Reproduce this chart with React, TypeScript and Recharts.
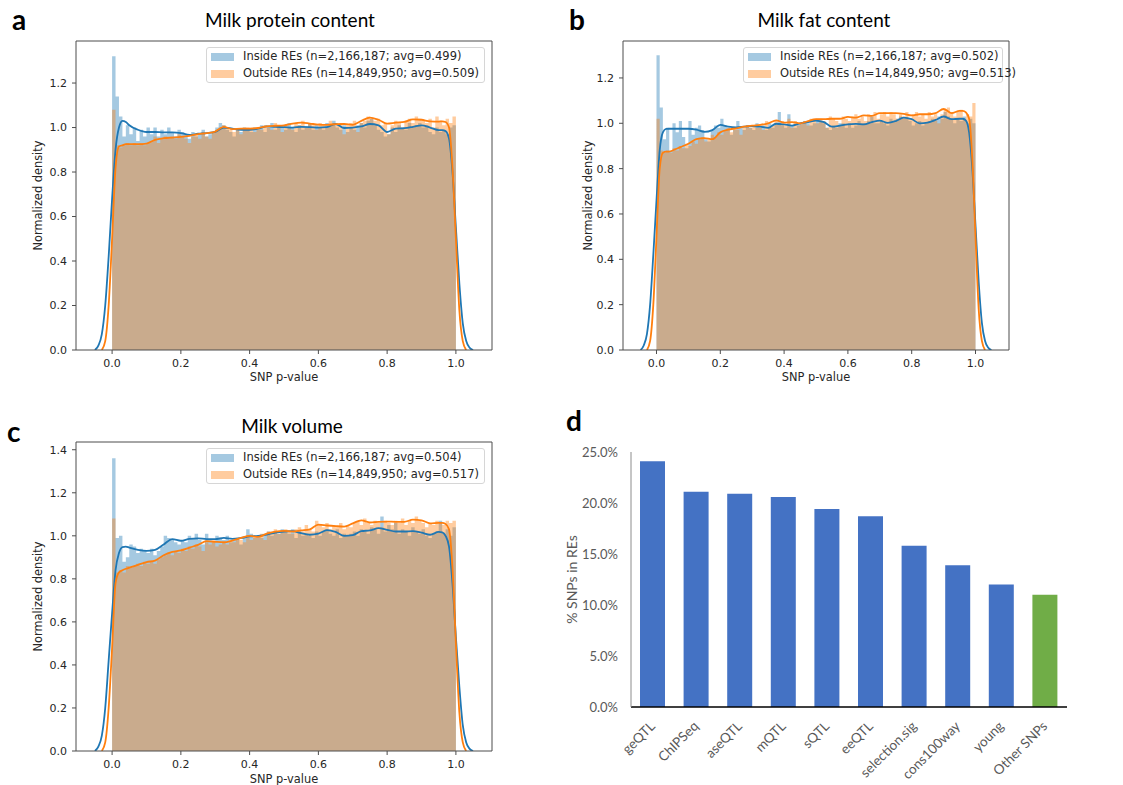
import React from 'react';
import { ComposedChart, Area, Line, XAxis, YAxis, BarChart, Bar, Cell, Label, ReferenceLine } from 'recharts';

const BLUE = '#1f77b4';
const ORANGE = '#ff7f0e';
const MPL_FONT = '"DejaVu Sans", sans-serif';
const XL_FONT = 'Lato, sans-serif';

// p-value histograms (100 bins over [0, 1]), normalized density
const PROTEIN_IN = [
  1.32, 1.14, 1.05, 0.96, 1.01, 0.97, 1.0, 0.94, 0.99, 0.96,
  1.0, 0.97, 1.0, 0.96, 0.99, 0.97, 1.0, 0.98, 0.96, 0.99,
  0.98, 0.97, 0.95, 0.98, 0.96, 0.97, 0.99, 0.96, 0.97, 0.98,
  1.0, 1.02, 1.01, 0.99, 0.98, 0.96, 0.99, 0.98, 1.0, 0.99,
  0.98, 1.0, 0.99, 1.01, 0.98, 1.0, 1.02, 0.99, 1.01, 1.0,
  0.99, 1.02, 1.0, 0.98, 1.01, 0.99, 1.0, 1.02, 0.99, 1.01,
  1.0, 0.99, 1.02, 1.01, 1.03, 1.0, 0.99, 1.01, 0.98, 1.0,
  0.99, 1.01, 1.02, 1.0, 1.03, 1.04, 1.01, 0.99, 0.98, 0.96,
  0.97, 1.0, 0.98, 1.01, 1.0, 0.99, 1.02, 1.0, 1.01, 1.02,
  1.0, 1.01, 0.98, 0.97, 1.0, 0.98, 0.99, 0.97, 1.0, 1.01,
];
const PROTEIN_OUT = [
  1.08, 0.92, 0.91, 0.92, 0.93, 0.92, 0.93, 0.92, 0.93, 0.92,
  0.93, 0.94, 0.96, 0.93, 0.95, 0.96, 0.95, 0.96, 0.95, 0.97,
  0.96, 0.95, 0.93, 0.96, 0.97, 0.95, 0.98, 0.96, 0.95, 0.98,
  0.99, 1.0, 1.01, 1.0, 0.99, 0.98, 0.99, 0.97, 1.0, 1.0,
  0.99, 0.98, 1.0, 0.99, 1.01, 1.0, 0.99, 1.02, 1.01, 0.98,
  1.01, 1.0, 0.99, 1.02, 1.01, 1.03, 1.0, 1.02, 1.01, 0.99,
  1.02, 1.01, 1.0, 1.03, 1.02, 1.01, 1.02, 0.97, 1.01, 1.02,
  1.03, 0.98, 1.02, 1.03, 1.05, 1.04, 1.03, 1.04, 1.01, 1.02,
  0.97, 1.01, 1.03, 1.02, 1.0, 1.03, 1.04, 1.02, 1.05, 1.04,
  1.03, 1.02, 1.04, 1.0, 1.05, 1.03, 1.01, 1.04, 1.02, 1.05,
];
const FAT_IN = [
  1.3, 1.07, 0.93, 0.98, 0.88, 1.0, 0.96, 1.01, 0.94, 0.89,
  1.01, 0.95, 0.98, 0.99, 0.97, 0.93, 0.92, 0.97, 0.99, 0.98,
  1.02, 0.99, 0.98, 0.95, 0.97, 1.01, 0.98, 0.97, 0.99, 0.98,
  0.97, 1.0, 0.98, 0.99, 0.97, 1.0, 0.98, 1.0, 1.05, 0.99,
  0.98, 1.04, 0.99, 0.98, 1.0, 1.0, 1.01, 1.0, 0.99, 1.0,
  1.02, 1.01, 1.0, 0.98, 0.97, 0.99, 0.98, 1.0, 1.0, 0.98,
  1.0, 0.98, 0.99, 1.01, 1.0, 1.0, 1.01, 1.03, 1.0, 1.0,
  1.01, 1.0, 0.99, 1.02, 1.01, 1.02, 1.03, 1.02, 1.02, 1.01,
  0.99, 1.0, 1.01, 0.99, 1.0, 1.01, 1.02, 1.01, 1.03, 1.02,
  1.05, 1.03, 1.02, 1.0, 1.02, 1.01, 1.03, 1.0, 1.02, 1.0,
];
const FAT_OUT = [
  1.02, 0.88, 0.87, 0.88, 0.87, 0.89, 0.88, 0.9, 0.89, 0.91,
  0.9, 0.92, 0.91, 0.93, 0.94, 0.92, 0.93, 0.95, 0.94, 0.96,
  0.95, 0.97, 0.98, 0.96, 0.98, 0.97, 0.95, 0.98, 0.99, 0.98,
  0.99, 0.98, 0.99, 0.97, 1.01, 0.98, 0.99, 1.01, 1.0, 1.01,
  0.99, 1.02, 0.98, 1.01, 0.99, 1.0, 1.01, 0.99, 1.02, 1.01,
  1.0, 1.02, 1.01, 0.98, 1.03, 1.02, 1.01, 0.99, 1.03, 1.02,
  1.01, 1.03, 1.04, 1.02, 1.03, 1.01, 1.04, 1.03, 1.05, 1.02,
  1.04, 1.05, 1.03, 1.05, 1.04, 1.02, 1.04, 1.03, 1.05, 1.02,
  1.04, 1.05, 1.03, 1.04, 1.02, 1.05, 1.03, 1.04, 1.0, 1.04,
  1.06, 1.07, 1.05, 1.03, 1.05, 1.06, 1.02, 1.04, 1.03, 1.09,
];
const VOLUME_IN = [
  1.36, 0.99, 1.0, 0.88, 0.9, 0.96, 0.95, 0.92, 0.94, 0.93,
  0.92, 0.94, 0.91, 0.93, 0.95, 1.0, 0.99, 0.98, 0.97, 0.96,
  0.98, 0.97, 1.0, 0.99, 1.01, 0.98, 0.96, 1.01, 0.98, 0.97,
  1.0, 0.99, 0.98, 1.0, 0.97, 0.98, 0.99, 0.96, 0.99, 1.03,
  1.01, 0.99, 1.0, 0.99, 1.01, 1.02, 1.0, 1.02, 1.01, 1.03,
  1.02, 1.01, 1.03, 0.99, 1.02, 1.0, 1.01, 1.0, 0.99, 1.02,
  1.0, 1.02, 1.03, 1.01, 1.0, 1.03, 0.99, 1.01, 1.0, 1.01,
  1.02, 1.0, 1.03, 1.02, 1.01, 1.04, 1.03, 1.01, 1.09, 1.02,
  1.05, 1.03, 1.06, 1.01, 1.03, 1.02, 1.0, 1.04, 1.02, 1.01,
  1.03, 1.0, 0.99, 1.01, 1.02, 1.07, 1.01, 1.03, 1.0, 1.04,
];
const VOLUME_OUT = [
  1.08, 0.83, 0.84, 0.83, 0.86, 0.85, 0.86, 0.87, 0.86, 0.88,
  0.87, 0.88, 0.87, 0.89, 0.9, 0.91, 0.92, 0.91, 0.93, 0.92,
  0.94, 0.93, 0.95, 0.94, 0.96, 0.95, 0.93, 0.97, 0.96, 0.98,
  0.95, 0.96, 0.97, 0.96, 0.98, 0.97, 0.99, 0.98, 0.97, 1.0,
  0.98, 1.0, 0.99, 1.01, 0.98, 1.02, 1.01, 1.03, 1.01, 1.02,
  1.03, 1.02, 1.01, 1.03, 1.04, 1.02, 1.05, 1.03, 1.02, 1.07,
  1.05, 1.04, 1.06, 1.03, 1.05, 1.04, 1.06, 1.03, 1.05, 1.04,
  1.06, 1.07, 1.05, 1.08, 1.06, 1.05, 1.07, 1.06, 1.04, 1.07,
  1.06, 1.05, 1.07, 1.06, 1.08, 1.05, 1.07, 1.06, 1.09, 1.07,
  1.06, 1.04, 1.06, 1.05, 1.07, 1.06, 1.05, 1.07, 1.06, 1.07,
];

// KDE curves sampled on a shared p-value grid (null = outside the curve's support)
const KDE_X = [
  -0.06, -0.05, -0.04, -0.03, -0.02, -0.01, 0, 0.01, 0.02, 0.03, 0.04, 0.05,
  0.075, 0.1, 0.125, 0.15, 0.175, 0.2, 0.225, 0.25, 0.275, 0.3, 0.325, 0.35,
  0.375, 0.4, 0.425, 0.45, 0.475, 0.5, 0.525, 0.55, 0.575, 0.6, 0.625, 0.65,
  0.675, 0.7, 0.725, 0.75, 0.775, 0.8, 0.825, 0.85, 0.875, 0.9, 0.925, 0.95,
  0.96, 0.97, 0.98, 0.99, 1.0, 1.01, 1.02, 1.03, 1.04, 1.05, 1.06,
];
const PROTEIN_IN_KDE = [
  null, 0, 0.02, 0.07, 0.2, 0.42, 0.68, 0.9, 1.0, 1.03, 1.025, 1.01,
  0.99, 0.98, 0.98, 0.978, 0.978, 0.975, 0.967, 0.972, 0.975, 0.98, 1.0, 0.995,
  0.99, 0.99, 0.995, 1.005, 1.003, 1.002, 1.0, 1.003, 1.002, 1.0, 1.002, 1.016,
  0.998, 1.0, 1.005, 1.016, 1.01, 0.98, 0.995, 0.997, 1.003, 1.01, 1.0, 0.988,
  0.988, 0.984, 0.95, 0.8, 0.55, 0.3, 0.12, 0.04, 0.01, 0, null,
];
const PROTEIN_OUT_KDE = [
  null, null, null, 0, 0.04, 0.2, 0.5, 0.82, 0.915, 0.92, 0.925, 0.925,
  0.925, 0.928, 0.945, 0.952, 0.955, 0.958, 0.963, 0.97, 0.975, 0.982, 1.003, 0.993,
  0.995, 0.995, 0.998, 1.005, 1.008, 1.01, 1.018, 1.022, 1.018, 1.013, 1.012, 1.015,
  1.016, 1.012, 1.03, 1.045, 1.035, 1.018, 1.022, 1.025, 1.037, 1.035, 1.028, 1.027,
  1.028, 1.025, 1.0, 0.82, 0.5, 0.18, 0.04, 0, null, null, null,
];
const FAT_IN_KDE = [
  null, 0, 0.02, 0.07, 0.2, 0.42, 0.66, 0.88, 0.96, 0.975, 0.976, 0.976,
  0.976, 0.976, 0.972, 0.962, 0.97, 0.993, 0.985, 0.982, 0.985, 0.988, 0.985, 0.98,
  0.998, 0.995, 0.99, 1.0, 1.005, 1.012, 1.005, 0.985, 0.99, 0.995, 0.997, 0.995,
  1.005, 1.012, 1.002, 1.01, 1.025, 1.018, 1.0, 1.003, 1.015, 1.03, 1.018, 1.02,
  1.02, 1.012, 0.96, 0.8, 0.55, 0.3, 0.12, 0.04, 0.01, 0, null,
];
const FAT_OUT_KDE = [
  null, null, null, 0, 0.04, 0.2, 0.5, 0.8, 0.87, 0.875, 0.875, 0.88,
  0.895, 0.91, 0.93, 0.935, 0.93, 0.96, 0.972, 0.978, 0.985, 0.99, 0.993, 1.0,
  1.013, 1.003, 1.005, 1.0, 1.01, 1.018, 1.018, 1.02, 1.02, 1.028, 1.025, 1.035,
  1.033, 1.045, 1.045, 1.045, 1.042, 1.035, 1.04, 1.04, 1.045, 1.063, 1.045, 1.055,
  1.055, 1.048, 1.02, 0.84, 0.5, 0.18, 0.04, 0, null, null, null,
];
const VOLUME_IN_KDE = [
  null, 0, 0.02, 0.07, 0.2, 0.42, 0.64, 0.84, 0.92, 0.948, 0.95, 0.945,
  0.935, 0.93, 0.935, 0.96, 0.985, 0.977, 0.986, 0.988, 0.985, 0.985, 0.99, 0.986,
  0.99, 0.997, 1.0, 1.006, 1.015, 1.02, 1.022, 1.012, 1.005, 1.01, 1.026, 1.018,
  1.0, 1.003, 1.022, 1.025, 1.036, 1.028, 1.02, 1.02, 1.022, 1.015, 1.005, 1.018,
  1.016, 1.0, 0.95, 0.78, 0.53, 0.3, 0.12, 0.04, 0.01, 0, null,
];
const VOLUME_OUT_KDE = [
  null, null, null, 0, 0.04, 0.2, 0.48, 0.78, 0.83, 0.84, 0.847, 0.852,
  0.865, 0.878, 0.885, 0.91, 0.925, 0.932, 0.945, 0.958, 0.975, 0.972, 0.97, 0.978,
  0.99, 1.0, 0.995, 1.01, 1.02, 1.023, 1.02, 1.025, 1.03, 1.052, 1.048, 1.045,
  1.043, 1.058, 1.072, 1.062, 1.065, 1.066, 1.065, 1.065, 1.075, 1.072, 1.058, 1.06,
  1.06, 1.055, 1.03, 0.85, 0.5, 0.18, 0.04, 0, null, null, null,
];

const P_TICKS = [0, 0.2, 0.4, 0.6, 0.8, 1.0];
const DENSITY_TICKS_12 = [0, 0.2, 0.4, 0.6, 0.8, 1.0, 1.2];
const DENSITY_TICKS_14 = [0, 0.2, 0.4, 0.6, 0.8, 1.0, 1.2, 1.4];

// panel d
const RE_CATEGORIES = ['geQTL', 'ChIPSeq', 'aseQTL', 'mQTL', 'sQTL', 'eeQTL', 'selection.sig', 'cons100way', 'young', 'Other SNPs'];
const RE_PERCENT = [0.241, 0.211, 0.209, 0.206, 0.194, 0.187, 0.158, 0.139, 0.12, 0.11];
const PCT_TICKS = [0, 0.05, 0.1, 0.15, 0.2, 0.25];

const X_MIN = -0.105;
const X_MAX = 1.105;

const toSteps = (bins: number[]) => [
  ...bins.map((v, i) => ({ x: i / bins.length, y: v })),
  { x: 1, y: bins[bins.length - 1] },
];
const toCurve = (ys: (number | null)[]) => KDE_X.map((x, i) => ({ x, y: ys[i] }));

const tickStyle = { fill: '#262626', fontSize: 11, fontFamily: MPL_FONT };
const labelStyle = { fill: '#262626', fontSize: 11.4, fontFamily: MPL_FONT };
const FRAME = '#4d4d4d';

const HistLegend = ({ left, top, width, labels }: any) => (
  <div
    style={{
      position: 'absolute', left, top, width, height: 36, boxSizing: 'border-box',
      border: '1px solid #d6d6d6', borderRadius: 3, background: 'rgba(255,255,255,0.8)',
      fontFamily: MPL_FONT, fontSize: 11.5, color: '#262626', lineHeight: 1,
    }}
  >
    {labels.map((t: string, i: number) => (
      <React.Fragment key={t}>
        <div style={{ position: 'absolute', left: 4, top: 5 + i * 17, width: 23, height: 8, background: i === 0 ? 'rgba(31,119,180,0.4)' : 'rgba(255,127,14,0.4)' }} />
        <div style={{ position: 'absolute', left: 36, top: 3 + i * 17, whiteSpace: 'nowrap' }}>{t}</div>
      </React.Fragment>
    ))}
  </div>
);

const HistPanel = ({ left, top, width, height, plot, xAxisH, yMax, yTicks, yLabelOffset, xLabelOffset, inside, outside, insideKde, outsideKde }: any) => (
  <div style={{ position: 'absolute', left, top }}>
    <ComposedChart
      width={width}
      height={height}
      margin={{ top: plot.top, right: width - plot.right, bottom: height - plot.bottom - xAxisH, left: plot.left - 40 }}
    >
      <XAxis type="number" dataKey="x" domain={[X_MIN, X_MAX]} ticks={P_TICKS} allowDataOverflow
        height={xAxisH} stroke={FRAME} tickSize={4} tickMargin={5} tick={tickStyle} tickFormatter={(v: number) => v.toFixed(1)}>
        <Label value="SNP p-value" position="insideBottom" offset={xLabelOffset} style={labelStyle} />
      </XAxis>
      <YAxis type="number" domain={[0, yMax]} ticks={yTicks} allowDataOverflow width={40}
        stroke={FRAME} tickSize={4} tickMargin={5} tick={tickStyle} tickFormatter={(v: number) => v.toFixed(1)}>
        <Label value="Normalized density" angle={-90} position="insideLeft" offset={yLabelOffset}
          style={{ ...labelStyle, textAnchor: 'middle' }} />
      </YAxis>
      <Area data={toSteps(inside)} dataKey="y" type="stepAfter" fill={BLUE} fillOpacity={0.4} stroke="none" isAnimationActive={false} activeDot={false} />
      <Area data={toSteps(outside)} dataKey="y" type="stepAfter" fill={ORANGE} fillOpacity={0.4} stroke="none" isAnimationActive={false} activeDot={false} />
      <Line data={toCurve(insideKde)} dataKey="y" type="monotone" stroke={BLUE} strokeWidth={1.8} dot={false} activeDot={false} isAnimationActive={false} />
      <Line data={toCurve(outsideKde)} dataKey="y" type="monotone" stroke={ORANGE} strokeWidth={1.8} dot={false} activeDot={false} isAnimationActive={false} />
      {/* top and right spines */}
      <ReferenceLine y={yMax} stroke={FRAME} ifOverflow="visible" />
      <ReferenceLine x={X_MAX} stroke={FRAME} ifOverflow="visible" />
    </ComposedChart>
  </div>
);

const SlantTick = ({ x, y, payload }: any) => (
  <text x={x + 3} y={y + 20} transform={`rotate(-45, ${x + 3}, ${y + 20})`} textAnchor="end" fontSize={13.5} fill="#595959" fontFamily={XL_FONT}>
    {payload.value}
  </text>
);

const Title = ({ cx, top, children }: any) => (
  <div style={{ position: 'absolute', left: cx, top, transform: 'translateX(-50%)', whiteSpace: 'nowrap', fontFamily: XL_FONT, fontSize: 19, lineHeight: 1, color: '#000' }}>
    {children}
  </div>
);
const Letter = ({ left, top, children }: any) => (
  <div style={{ position: 'absolute', left, top, fontFamily: XL_FONT, fontWeight: 700, fontSize: 28, lineHeight: 1, color: '#000' }}>
    {children}
  </div>
);

export default function App() {
  const reData = RE_CATEGORIES.map((name, i) => ({ name, value: RE_PERCENT[i] }));
  return (
    <div style={{ position: 'absolute', left: 0, top: 0, width: 1123, height: 785, background: '#fff', overflow: 'hidden' }}>
      <HistPanel left={0} top={0} width={560} height={400} plot={{ left: 76, right: 492, top: 41, bottom: 350 }} xAxisH={40}
        yMax={1.389} yTicks={DENSITY_TICKS_12} yLabelOffset={2} xLabelOffset={9}
        inside={PROTEIN_IN} outside={PROTEIN_OUT} insideKde={PROTEIN_IN_KDE} outsideKde={PROTEIN_OUT_KDE} />
      <HistPanel left={560} top={0} width={563} height={400} plot={{ left: 63, right: 449, top: 41, bottom: 350 }} xAxisH={40}
        yMax={1.363} yTicks={DENSITY_TICKS_12} yLabelOffset={5} xLabelOffset={9}
        inside={FAT_IN} outside={FAT_OUT} insideKde={FAT_IN_KDE} outsideKde={FAT_OUT_KDE} />
      <HistPanel left={0} top={400} width={560} height={385} plot={{ left: 76, right: 492, top: 42, bottom: 351 }} xAxisH={34}
        yMax={1.436} yTicks={DENSITY_TICKS_14} yLabelOffset={2} xLabelOffset={2}
        inside={VOLUME_IN} outside={VOLUME_OUT} insideKde={VOLUME_IN_KDE} outsideKde={VOLUME_OUT_KDE} />

      <HistLegend left={206} top={47} width={279} labels={['Inside REs (n=2,166,187; avg=0.499)', 'Outside REs (n=14,849,950; avg=0.509)']} />
      <HistLegend left={743} top={47} width={260} labels={['Inside REs (n=2,166,187; avg=0.502)', 'Outside REs (n=14,849,950; avg=0.513)']} />
      <HistLegend left={206} top={448} width={279} labels={['Inside REs (n=2,166,187; avg=0.504)', 'Outside REs (n=14,849,950; avg=0.517)']} />

      <div style={{ position: 'absolute', left: 540, top: 400 }}>
        <BarChart width={583} height={385} data={reData} margin={{ top: 52, right: 56, bottom: 0, left: 31 }}>
          <XAxis dataKey="name" interval={0} height={78} tickSize={0} tickMargin={0} tickLine={false}
            axisLine={{ stroke: '#000', strokeWidth: 1.5 }} tick={<SlantTick />} />
          <YAxis type="number" domain={[0, 0.25]} ticks={PCT_TICKS} width={60} tickSize={0} tickMargin={13} tickLine={false}
            axisLine={{ stroke: '#8c8c8c' }} tick={{ fill: '#595959', fontSize: 13, fontFamily: XL_FONT }}
            tickFormatter={(v: number) => `${(v * 100).toFixed(1)}%`}>
            <Label value="% SNPs in REs" angle={-90} position="insideLeft" offset={1}
              style={{ textAnchor: 'middle', fill: '#595959', fontSize: 14, fontFamily: XL_FONT }} />
          </YAxis>
          <Bar dataKey="value" barSize={25} isAnimationActive={false}>
            {reData.map((d, i) => (
              <Cell key={d.name} fill={i === reData.length - 1 ? '#70ad47' : '#4472c4'} />
            ))}
          </Bar>
        </BarChart>
      </div>

      <Title cx={290} top={10}>Milk protein content</Title>
      <Title cx={824} top={10}>Milk fat content</Title>
      <Title cx={292} top={416}>Milk volume</Title>
      <Letter left={12} top={5}>a</Letter>
      <Letter left={569} top={5}>b</Letter>
      <Letter left={7} top={417}>c</Letter>
      <Letter left={566} top={406}>d</Letter>
    </div>
  );
}
